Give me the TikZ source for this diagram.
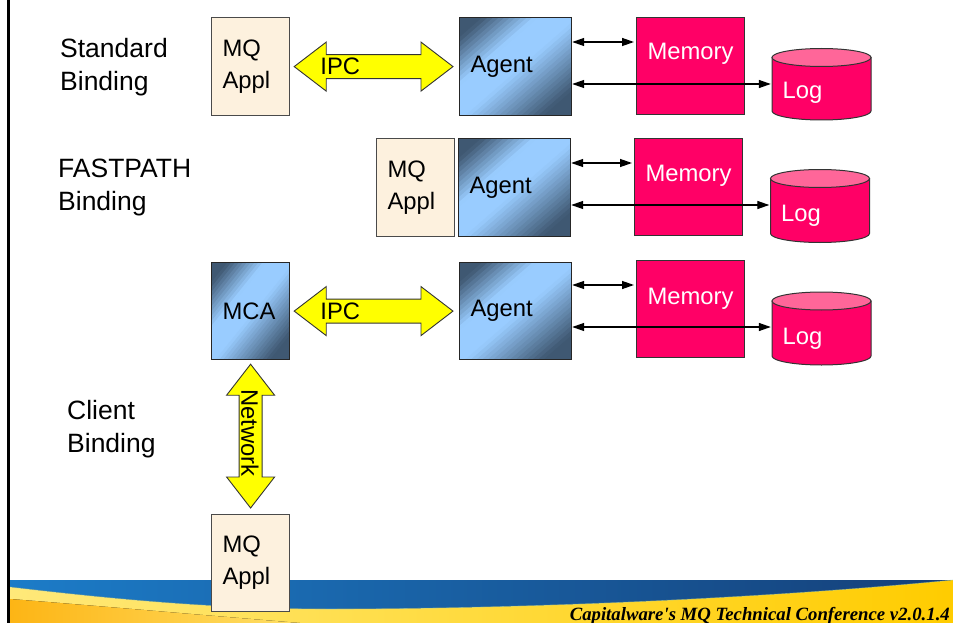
\documentclass[tikz,border=0pt]{standalone}
\usepackage{fontspec}
\setmainfont{Liberation Sans}
\newfontfamily\confont{Liberation Serif}
\usetikzlibrary{arrows.meta,calc}

\definecolor{appfill}{HTML}{FDF1DE}
\definecolor{boxline}{HTML}{4A4A4A}
\definecolor{agdark}{HTML}{3F5872}
\definecolor{aglight}{HTML}{99CCFF}
\definecolor{memfill}{HTML}{FF0066}
\definecolor{logtop}{HTML}{FF6699}
\definecolor{ipcfill}{HTML}{FFFF00}
\definecolor{bandblueL}{HTML}{1C7CC8}
\definecolor{bandblueR}{HTML}{153F78}
\definecolor{bandyelL}{HTML}{FFE97A}
\definecolor{bandyelR}{HTML}{FFCC00}
\definecolor{bandorange}{HTML}{FDB515}

% diagonal gradient for the agent boxes, built from thin strips;
% box-relative a (0 left .. 1 right), b (0 top .. 1 bottom), u = a+b runs 0..2
\newcommand\agentgrad{%
  \foreach \k in {0,...,39}{%
    \pgfmathsetmacro\ua{\k/20}%
    \pgfmathsetmacro\ub{(\k+1.4)/20}%
    \pgfmathsetmacro\um{(\k+0.5)/20}%
    \pgfmathsetmacro\pct{100*max(0,min(1,max((0.68-\um)/0.48,(\um-1.05)/0.7)))}%
    \fill[agdark!\pct!aglight]
      let \p1=(path picture bounding box.north west), \p2=(path picture bounding box.south east) in
      ({\x1-(\x2-\x1)}, {\y1-(\ua+1)*(\y1-\y2)}) --
      ({\x1+2*(\x2-\x1)}, {\y1-(\ua-2)*(\y1-\y2)}) --
      ({\x1+2*(\x2-\x1)}, {\y1-(\ub-2)*(\y1-\y2)}) --
      ({\x1-(\x2-\x1)}, {\y1-(\ub+1)*(\y1-\y2)}) -- cycle;
  }}

\tikzset{
  boxtext/.style={font=\fontsize{23.8}{32}\selectfont},
  sidelabel/.style={font=\fontsize{26.5}{33}\selectfont, align=left, anchor=west, inner sep=0pt},
  basebox/.style={boxtext, align=left, inner xsep=11pt, inner ysep=0pt, anchor=north west, line width=1.2pt},
  applbox/.style={basebox, draw=boxline, fill=appfill, text width=56pt, minimum height=98pt},
  agentbox/.style={basebox, draw=black!85, path picture={\agentgrad}, text width=90pt, minimum height=98pt},
  mcabox/.style={basebox, draw=black!85, path picture={\agentgrad}, text width=56pt, minimum height=97pt},
  membox/.style={draw=black!80, line width=1pt, fill=memfill, minimum width=108pt, minimum height=97pt, anchor=north west, inner sep=0pt},
  whitetext/.style={boxtext, text=white, inner sep=0pt},
  fatarrow/.style={draw=black!80, line width=0.9pt, fill=ipcfill},
  link/.style={line width=1.3pt, {Triangle[length=12pt,width=8pt]}-{Triangle[length=12pt,width=8pt]}},
}

% horizontal double block arrow between two anchors
\newcommand\hfat[2]{%
  \draw[fatarrow] let \p1=([xshift=4pt]#1), \p2=([xshift=-6pt]#2) in
    (\x1,\y1) -- (\x1+32pt,\y1+24.5pt) -- (\x1+32pt,\y1+12pt) -- (\x2-32pt,\y1+12pt)
    -- (\x2-32pt,\y1+24.5pt) -- (\x2,\y1) -- (\x2-32pt,\y1-24.5pt) -- (\x2-32pt,\y1-12pt)
    -- (\x1+32pt,\y1-12pt) -- (\x1+32pt,\y1-24.5pt) -- cycle;}
% vertical double block arrow between two anchors
\newcommand\vfat[2]{%
  \draw[fatarrow] let \p1=([yshift=-4pt]#1), \p2=([yshift=6pt]#2) in
    (\x1,\y1) -- (\x1+24pt,\y1-31pt) -- (\x1+11.5pt,\y1-31pt) -- (\x1+11.5pt,\y2+31pt)
    -- (\x1+24pt,\y2+31pt) -- (\x1,\y2) -- (\x1-24pt,\y2+31pt) -- (\x1-11.5pt,\y2+31pt)
    -- (\x1-11.5pt,\y1-31pt) -- (\x1-24pt,\y1-31pt) -- cycle;}
% log drum: name, centre x, top centre y, bottom centre y
\newcommand\logdrum[4]{%
  \filldraw[fill=memfill, draw=black!80, line width=1pt]
    (#2-49.5,#3) -- (#2-49.5,#4) arc[start angle=180, end angle=0, x radius=49.5, y radius=9] -- (#2+49.5,#3) -- cycle;
  \filldraw[fill=logtop, draw=black!80, line width=1pt] (#2,#3) ellipse[x radius=49.5, y radius=9];
  \node[inner sep=0pt, minimum width=99pt, minimum height={#4-#3+18}] (#1) at (#2,{(#3+#4)/2}) {};
  \node[whitetext, anchor=base west] (#1txt) at (#2-39,#4-12) {Log};}

\begin{document}
\begin{tikzpicture}[x=1pt, y=-1pt]
\useasboundingbox (0,0) rectangle (953,623);
\fill[white] (0,0) rectangle (953,623);

% footer band
\fill[left color=bandblueL, right color=bandblueR] (10,580) rectangle (953,623);
\fill[left color=bandyelL, right color=bandyelR]
  (10,587) .. controls (120,600) and (220,609) .. (330,609)
  .. controls (500,609) and (750,600) .. (953,580) -- (953,623) -- (10,623) -- cycle;
\draw[white!55!teal, line width=0.6pt, opacity=0.6]
  (10,587) .. controls (120,600) and (220,609) .. (330,609)
  .. controls (500,609) and (750,600) .. (953,580);
\fill[left color=bandorange, right color=bandyelL!80!bandorange]
  (10,599) .. controls (100,606) and (200,615) .. (300,623) -- (10,623) -- cycle;
\draw[line width=2.5pt] (8.7,0) -- (8.7,623);
\node[anchor=base east, inner sep=0pt, font=\confont\bfseries\itshape\fontsize{18.75}{19}\selectfont]
  (conf) at (950,620) {Capitalware's MQ Technical Conference v2.0.1.4};

% side labels
\node[sidelabel] (lstd) at (60,67) {Standard\\Binding};
\node[sidelabel] (lfast) at (58,187) {FASTPATH\\Binding};
\node[sidelabel] (lcli) at (67,429) {Client\\Binding};

% standard binding
\node[applbox] (appl1) at (211,17) {MQ\\Appl};
\node[agentbox] (agent1) at (459,17) {Agent};
\node[membox] (mem1) at (636,17) {};
\node[whitetext, anchor=base] (mem1txt) at ([yshift=-43pt]mem1.north) {Memory};
\logdrum{log1}{821.5}{57.5}{111}
\hfat{appl1.east}{agent1.west}
\node[boxtext, anchor=west, inner sep=0pt] (ipc1) at ([xshift=30pt]appl1.east) {IPC};
\draw[link, shorten >=2pt] ([yshift=-25pt]agent1.north east) -- ([yshift=-25pt]agent1.north east -| mem1.west);
\draw[link, shorten >=1pt] ([yshift=-67pt]agent1.north east) -- ([yshift=-67pt]agent1.north east -| log1.west);

% fastpath binding
\node[applbox] (appl2) at (376,138) {MQ\\Appl};
\node[agentbox] (agent2) at (458,138) {Agent};
\node[membox] (mem2) at (634,138) {};
\node[whitetext, anchor=base] (mem2txt) at ([yshift=-43pt]mem2.north) {Memory};
\logdrum{log2}{820}{178.5}{233.5}
\draw[link, shorten >=2pt] ([yshift=-25pt]agent2.north east) -- ([yshift=-25pt]agent2.north east -| mem2.west);
\draw[link, shorten >=1pt] ([yshift=-67pt]agent2.north east) -- ([yshift=-67pt]agent2.north east -| log2.west);

% client binding
\node[mcabox] (mca) at (211,262) {MCA};
\node[agentbox, minimum height=97pt] (agent3) at (459,262) {Agent};
\node[membox] (mem3) at (636,260) {};
\node[whitetext, anchor=base] (mem3txt) at ([yshift=-44pt]mem3.north) {Memory};
\logdrum{log3}{821.5}{301}{356}
\hfat{mca.east}{agent3.west}
\node[boxtext, anchor=west, inner sep=0pt] (ipc3) at ([xshift=30pt]mca.east) {IPC};
\draw[link, shorten >=2pt] ([yshift=-23pt]agent3.north east) -- ([yshift=-23pt]agent3.north east -| mem3.west);
\draw[link, shorten >=1pt] ([yshift=-65pt]agent3.north east) -- ([yshift=-65pt]agent3.north east -| log3.west);

\node[applbox, minimum height=97pt] (appl3) at (211,514) {MQ\\Appl};
\vfat{mca.south}{appl3.north}
\node[boxtext, rotate=-90, inner sep=0pt] (net) at (250,433) {Network};
\end{tikzpicture}
\end{document}
